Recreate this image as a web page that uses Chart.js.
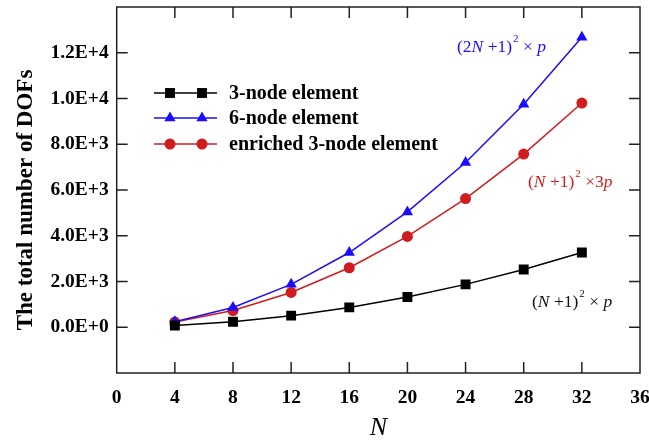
<!DOCTYPE html>
<html>
<head>
<meta charset="utf-8">
<script src="https://cdn.jsdelivr.net/npm/chart.js@4"></script>
<style>
  html, body { margin: 0; padding: 0; background: #fff; }
  #wrap { width: 649px; height: 443px; }
</style>
</head>
<body>
<div id="wrap"><canvas id="dofChart"></canvas></div>
<script>
// dados
const N = [4, 8, 12, 16, 20, 24, 28, 32]
const dof3node = [75, 243, 507, 867, 1323, 1875, 2523, 3267]
const dof6node = [243, 867, 1875, 3267, 5043, 7203, 9747, 12675]
const dofEnriched = [225, 729, 1521, 2601, 3969, 5625, 7569, 9801]
const seriesNames = ['3-node element', '6-node element', 'enriched 3-node element']
const xTicks = [0, 4, 8, 12, 16, 20, 24, 28, 32, 36]
const yTicks = [0, 2000, 4000, 6000, 8000, 10000, 12000]

const serif = '"Liberation Serif", "Times New Roman", serif'
const cBlack = '#000000'
const cBlue = '#1a0dff'
const cRed = '#d01c1f'

function sciLabel(v) {
    if (!yTicks.includes(v)) return ''
    if (v === 0) return '0.0E+0'
    const e = Math.floor(Math.log10(Math.abs(v)))
    return (v / Math.pow(10, e)).toFixed(1) + 'E+' + e
}

function pts(ys) { return N.map((x, i) => ({x: x, y: ys[i]})) }

function serie(label, ys, color, style, r) {
    return {
        label: label,
        data: pts(ys),
        borderColor: color,
        backgroundColor: color,
        borderWidth: 1.5,
        pointStyle: style,
        pointRadius: r,
        pointHoverRadius: r,
        pointBorderWidth: 0,
        tension: 0
    }
}

// moldura + ticks para dentro (nos 4 lados)
const frame = {
    id: 'frame',
    afterDraw(chart) {
        const ctx = chart.ctx
        const a = chart.chartArea
        const sx = chart.scales.x, sy = chart.scales.y
        const tl = 11
        ctx.save()
        ctx.strokeStyle = '#222'
        ctx.lineWidth = 1.5
        ctx.strokeRect(a.left, a.top, a.right - a.left, a.bottom - a.top)
        ctx.beginPath()
        for (const v of xTicks.slice(1, -1)) {
            const px = sx.getPixelForValue(v)
            ctx.moveTo(px, a.bottom); ctx.lineTo(px, a.bottom - tl)
            ctx.moveTo(px, a.top); ctx.lineTo(px, a.top + tl)
        }
        for (const v of yTicks) {
            const py = sy.getPixelForValue(v)
            ctx.moveTo(a.left, py); ctx.lineTo(a.left + tl, py)
            ctx.moveTo(a.right, py); ctx.lineTo(a.right - tl, py)
        }
        ctx.stroke()

        // legenda com dois marcadores por linha
        const rows = [93, 118, 144]
        chart.data.datasets.forEach((ds, i) => {
            const y = rows[i]
            ctx.strokeStyle = ds.borderColor
            ctx.fillStyle = ds.backgroundColor
            ctx.lineWidth = 1.5
            ctx.beginPath(); ctx.moveTo(154, y); ctx.lineTo(217, y); ctx.stroke()
            for (const mx of [170, 202]) {
                Chart.helpers.drawPoint(ctx, {pointStyle: ds.pointStyle, radius: ds.pointRadius, borderWidth: 0}, mx, y)
            }
            ctx.fillStyle = '#000'
            ctx.font = 'bold 20px ' + serif
            ctx.textBaseline = 'middle'
            ctx.textAlign = 'left'
            ctx.fillText(ds.label, 229, y + 1)
        })

        // fórmulas
        formula(ctx, 457, 47, '(2', 'N', ' +1)', ' × ', 'p', cBlue)
        formula(ctx, 528, 182, '(', 'N', ' +1)', ' ×3', 'p', cRed)
        formula(ctx, 532, 302, '(', 'N', ' +1)', ' × ', 'p', '#111')

        // títulos
        ctx.fillStyle = '#000'
        ctx.font = 'bold 23px ' + serif
        ctx.textAlign = 'center'
        ctx.textBaseline = 'middle'
        ctx.save()
        ctx.translate(26, 200)
        ctx.rotate(-Math.PI / 2)
        ctx.fillText('The total number of DOFs', 0, 0)
        ctx.restore()
        ctx.font = 'italic 26px ' + serif
        ctx.fillText('N', (a.left + a.right) / 2, 428)
        ctx.restore()
    }
}

function formula(ctx, x, y, a, n, b, c, p, color) {
    ctx.save()
    ctx.fillStyle = color
    ctx.textBaseline = 'middle'
    ctx.textAlign = 'left'
    const up = '17.5px ' + serif, it = 'italic 17.5px ' + serif
    ctx.font = up; ctx.fillText(a, x, y); x += ctx.measureText(a).width
    ctx.font = it; ctx.fillText(n, x, y); x += ctx.measureText(n).width
    ctx.font = up; ctx.fillText(b, x, y); x += ctx.measureText(b).width
    ctx.font = '11px ' + serif; ctx.fillText('2', x + 1, y - 8); x += ctx.measureText('2').width + 1
    ctx.font = up; ctx.fillText(c, x, y); x += ctx.measureText(c).width
    ctx.font = it; ctx.fillText(p, x, y)
    ctx.restore()
}

const dataDof = {
    datasets: [
        serie(seriesNames[0], dof3node, cBlack, 'rect', 7),
        serie(seriesNames[1], dof6node, cBlue, 'triangle', 6.5),
        serie(seriesNames[2], dofEnriched, cRed, 'circle', 5.5)
    ]
}

const optionsDof = {
    responsive: true,
    maintainAspectRatio: false,
    animation: false,
    layout: { padding: { top: 6, right: 9, left: 0, bottom: 0 } },
    plugins: { legend: { display: false }, tooltip: { enabled: false } },
    scales: {
        x: {
            type: 'linear', min: 0, max: 36,
            grid: { display: false, drawTicks: false },
            border: { display: false },
            afterBuildTicks: s => { s.ticks = xTicks.map(v => ({value: v})) },
            afterFit: s => { s.height = 70; s.paddingLeft = 0; s.paddingRight = 0 },
            ticks: { color: '#000', font: { family: serif, size: 19.5, weight: 'bold' }, padding: 13, maxRotation: 0 }
        },
        y: {
            type: 'linear', min: -2000, max: 14000,
            grid: { display: false, drawTicks: false },
            border: { display: false },
            afterBuildTicks: s => { s.ticks = [-2000].concat(yTicks, [14000]).map(v => ({value: v})) },
            afterFit: s => { s.width = 116.7; s.paddingTop = 0; s.paddingBottom = 0 },
            ticks: { color: '#000', font: { family: serif, size: 19.5, weight: 'bold' }, padding: 8, callback: v => sciLabel(v) }
        }
    }
}

const configDof = { type: 'line', data: dataDof, options: optionsDof, plugins: [frame] }
const dofChart = new Chart(document.getElementById('dofChart').getContext('2d'), configDof)
</script>
</body>
</html>
